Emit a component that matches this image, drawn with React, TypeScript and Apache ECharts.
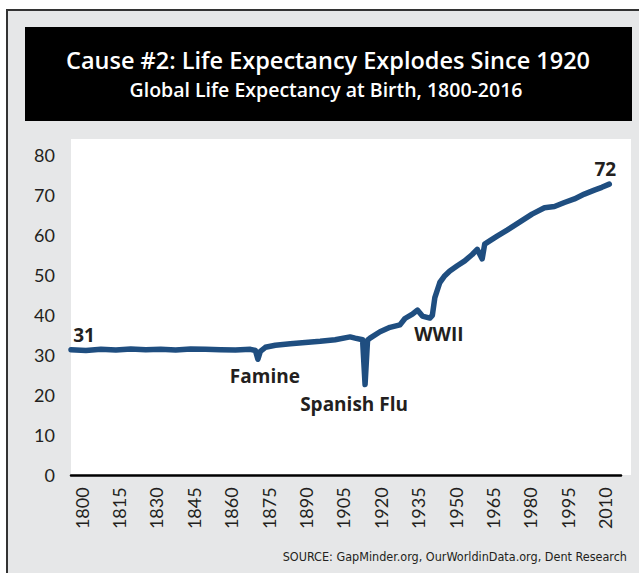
import React, { useEffect, useRef } from "react";
import * as echarts from "echarts";

// Data
const years: number[] = [
  1800, 1806, 1812, 1818, 1824, 1830, 1836, 1842, 1848, 1854, 1860, 1866, 1872, 1874, 1875, 1876,
  1878, 1882, 1888, 1894, 1900, 1906, 1912, 1914, 1917, 1918, 1919, 1920, 1924, 1928, 1932, 1934,
  1937, 1939, 1941, 1944, 1945, 1946, 1948, 1950, 1952, 1955, 1958, 1961, 1963, 1965, 1966, 1968,
  1971, 1975, 1980, 1985, 1990, 1994, 1998, 2002, 2006, 2010, 2013, 2016,
];
const lifeExpectancy: number[] = [
  31.4, 31.2, 31.5, 31.3, 31.6, 31.4, 31.5, 31.3, 31.6, 31.5, 31.4, 31.3, 31.5, 31.2, 29.0, 31.0,
  32.0, 32.5, 32.9, 33.2, 33.5, 33.9, 34.6, 34.3, 33.9, 22.7, 33.8, 34.3, 35.9, 37.0, 37.6, 39.2,
  40.3, 41.3, 39.8, 39.3, 40.0, 44.4, 48.2, 49.9, 51.1, 52.4, 53.6, 55.2, 56.5, 54.1, 57.8, 58.6,
  59.8, 61.3, 63.3, 65.3, 66.9, 67.2, 68.2, 69.1, 70.3, 71.3, 72.0, 72.8,
];
const yTicks: number[] = [0, 10, 20, 30, 40, 50, 60, 70, 80];
const xTickLabels: number[] = [
  1800, 1815, 1830, 1845, 1860, 1875, 1890, 1905, 1920, 1935, 1950, 1965, 1980, 1995, 2010,
];

const annotations = [
  { name: "31", year: 1800, value: 31.4, offset: [13, -15] },
  { name: "Famine", year: 1875, value: 29.0, offset: [7, 17] },
  { name: "Spanish Flu", year: 1918, value: 22.7, offset: [-11, 19] },
  { name: "WWII", year: 1944, value: 39.3, offset: [9, 16] },
  { name: "72", year: 2016, value: 72.8, offset: [-4, -15] },
];

const titleText = "Cause #2: Life Expectancy Explodes Since 1920";
const subtitleText = "Global Life Expectancy at Birth, 1800-2016";
const sourceText = "SOURCE: GapMinder.org, OurWorldinData.org, Dent Research";

const TEXT = "#231f20";
const LINE = "#1f4e80";
const FONT = "Lato, 'Open Sans', sans-serif";
const HEAD = "'Open Sans', Lato, sans-serif";
const X_MAX = 2020.7;

export default function App() {
  const ref = useRef<HTMLDivElement>(null);
  useEffect(() => {
    if (!ref.current) return;
    const chart = echarts.init(ref.current, undefined, { renderer: "svg" });
    const seriesData = years.map((y, i) => [y, lifeExpectancy[i]]);
    const step = xTickLabels[1] - xTickLabels[0];
    chart.setOption({
      animation: false,
      backgroundColor: "#ffffff",
      textStyle: { fontFamily: FONT },
      grid: [
        { left: 71, right: 18, top: 155.3, bottom: 97.7, containLabel: false },
        // labels of the year axis sit ~4 years to the right of their data position
        { left: 81.7, right: 7.3, top: 155.3, bottom: 97.7, containLabel: false },
      ],
      graphic: [
        {
          type: "rect",
          z: -20,
          shape: { x: 7, y: 10, width: 800, height: 800 },
          style: { fill: "#e6e7e8", stroke: "#333333", lineWidth: 2 },
        },
        {
          type: "rect",
          z: -10,
          shape: { x: 25, y: 27, width: 607, height: 94 },
          style: { fill: "#000000" },
        },
        {
          type: "rect",
          z: -10,
          shape: { x: 71, y: 139, width: 560, height: 336 },
          style: { fill: "#ffffff" },
        },
        {
          type: "text",
          z: 50,
          x: 328,
          y: 60,
          style: {
            text: titleText,
            fill: "#ffffff",
            font: `600 23.5px ${HEAD}`,
            textAlign: "center",
            textVerticalAlign: "middle",
          },
        },
        {
          type: "text",
          z: 50,
          x: 326,
          y: 89,
          style: {
            text: subtitleText,
            fill: "#ffffff",
            font: `600 19.5px ${HEAD}`,
            textAlign: "center",
            textVerticalAlign: "middle",
          },
        },
        {
          type: "text",
          z: 50,
          x: 627,
          y: 556,
          style: {
            text: sourceText,
            fill: TEXT,
            font: `12.5px 'Liberation Sans Narrow', 'DejaVu Sans Condensed', sans-serif`,
            textAlign: "right",
            textVerticalAlign: "middle",
          },
        },
      ],
      xAxis: [
        {
          type: "value",
          gridIndex: 0,
          min: xTickLabels[0],
          max: X_MAX,
          interval: step,
          axisLine: { show: true, onZero: false, lineStyle: { color: "#000000", width: 2.5 } },
          axisTick: { show: false },
          axisLabel: { show: false },
          splitLine: { show: false },
        },
        {
          type: "value",
          gridIndex: 1,
          min: xTickLabels[0],
          max: X_MAX,
          interval: step,
          axisLine: { show: false },
          axisTick: { show: false },
          splitLine: { show: false },
          axisLabel: {
            rotate: 90,
            margin: 12,
            fontSize: 18,
            color: TEXT,
            fontFamily: FONT,
            showMaxLabel: false,
            formatter: (v: number) =>
              xTickLabels.indexOf(Math.round(v)) >= 0 ? String(Math.round(v)) : "",
          },
        },
      ],
      yAxis: [
        {
          type: "value",
          gridIndex: 0,
          min: yTicks[0],
          max: yTicks[yTicks.length - 1],
          interval: yTicks[1] - yTicks[0],
          axisLine: { show: false },
          axisTick: { show: false },
          splitLine: { show: false },
          axisLabel: { margin: 16, fontSize: 18, color: TEXT, fontFamily: FONT },
        },
        {
          type: "value",
          gridIndex: 1,
          min: yTicks[0],
          max: yTicks[yTicks.length - 1],
          show: false,
        },
      ],
      series: [
        {
          type: "line",
          xAxisIndex: 0,
          yAxisIndex: 0,
          data: seriesData,
          showSymbol: false,
          symbol: "none",
          lineStyle: { color: LINE, width: 5.5, cap: "round", join: "round" },
          z: 5,
          markPoint: {
            symbol: "circle",
            symbolSize: 0,
            silent: true,
            data: annotations.map((a) => ({
              name: a.name,
              coord: [a.year, a.value],
              label: {
                show: true,
                position: "inside",
                offset: a.offset,
                formatter: a.name,
                color: TEXT,
                fontSize: 19,
                fontWeight: "bold",
                fontFamily: HEAD,
              },
            })),
          },
        },
      ],
    });
    return () => chart.dispose();
  }, []);
  return (
    <div
      ref={ref}
      style={{ position: "fixed", left: 0, top: 0, width: 639, height: 573 }}
    />
  );
}
